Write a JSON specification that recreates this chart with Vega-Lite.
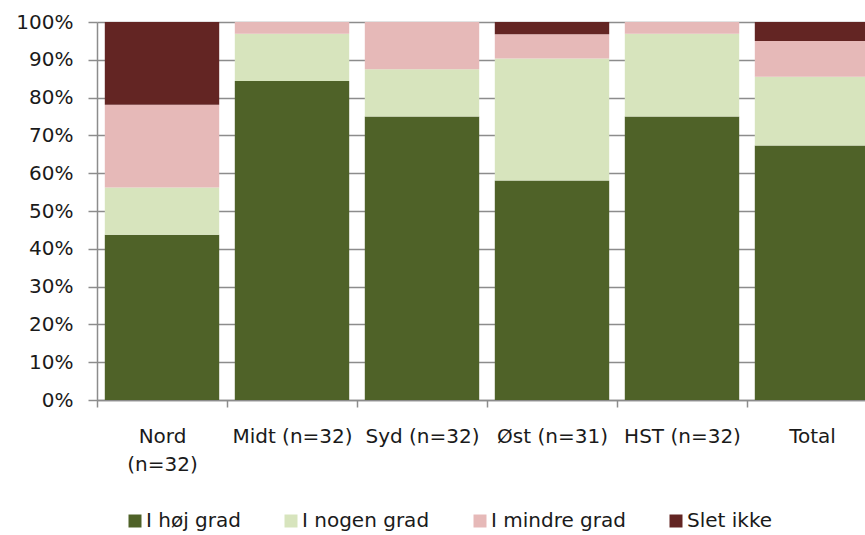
{
  "$schema": "https://vega.github.io/schema/vega-lite/v6.json",
  "autosize": {"type": "none"},
  "padding": {"left": 97, "top": 22, "right": 0, "bottom": 135},
  "width": 780,
  "height": 378,
  "background": "white",
  "config": {
    "view": {"stroke": null},
    "font": "DejaVu Sans"
  },
  "data": {
    "values": [
      {"region": "Nord (n=32)", "svar": "I høj grad", "o": 1, "n": 14},
      {"region": "Nord (n=32)", "svar": "I nogen grad", "o": 2, "n": 4},
      {"region": "Nord (n=32)", "svar": "I mindre grad", "o": 3, "n": 7},
      {"region": "Nord (n=32)", "svar": "Slet ikke", "o": 4, "n": 7},
      {"region": "Midt (n=32)", "svar": "I høj grad", "o": 1, "n": 27},
      {"region": "Midt (n=32)", "svar": "I nogen grad", "o": 2, "n": 4},
      {"region": "Midt (n=32)", "svar": "I mindre grad", "o": 3, "n": 1},
      {"region": "Midt (n=32)", "svar": "Slet ikke", "o": 4, "n": 0},
      {"region": "Syd (n=32)", "svar": "I høj grad", "o": 1, "n": 24},
      {"region": "Syd (n=32)", "svar": "I nogen grad", "o": 2, "n": 4},
      {"region": "Syd (n=32)", "svar": "I mindre grad", "o": 3, "n": 4},
      {"region": "Syd (n=32)", "svar": "Slet ikke", "o": 4, "n": 0},
      {"region": "Øst (n=31)", "svar": "I høj grad", "o": 1, "n": 18},
      {"region": "Øst (n=31)", "svar": "I nogen grad", "o": 2, "n": 10},
      {"region": "Øst (n=31)", "svar": "I mindre grad", "o": 3, "n": 2},
      {"region": "Øst (n=31)", "svar": "Slet ikke", "o": 4, "n": 1},
      {"region": "HST (n=32)", "svar": "I høj grad", "o": 1, "n": 24},
      {"region": "HST (n=32)", "svar": "I nogen grad", "o": 2, "n": 7},
      {"region": "HST (n=32)", "svar": "I mindre grad", "o": 3, "n": 1},
      {"region": "HST (n=32)", "svar": "Slet ikke", "o": 4, "n": 0},
      {"region": "Total", "svar": "I høj grad", "o": 1, "n": 107},
      {"region": "Total", "svar": "I nogen grad", "o": 2, "n": 29},
      {"region": "Total", "svar": "I mindre grad", "o": 3, "n": 15},
      {"region": "Total", "svar": "Slet ikke", "o": 4, "n": 8}
    ]
  },
  "mark": {"type": "bar", "stroke": null, "width": {"band": 0.88}},
  "encoding": {
    "x": {
      "field": "region",
      "type": "nominal",
      "sort": null,
      "scale": {"paddingInner": 0, "paddingOuter": 0},
      "axis": {
        "title": null,
        "labelAngle": 0,
        "labelFontSize": 20,
        "labelColor": "#1a1a1a",
        "labelBaseline": "top",
        "labelPadding": 19,
        "labelLineHeight": 28,
        "labelExpr": "datum.value == 'Nord (n=32)' ? ['Nord', '(n=32)'] : datum.value",
        "domainColor": "#8c8c8c",
        "domainWidth": 1.5,
        "tickColor": "#8c8c8c",
        "tickWidth": 1.5,
        "tickSize": 7,
        "tickBand": "extent",
        "grid": false
      }
    },
    "y": {
      "aggregate": "sum",
      "field": "n",
      "type": "quantitative",
      "stack": "normalize",
      "scale": {"domain": [0, 1], "nice": false},
      "axis": {
        "title": null,
        "format": ".0%",
        "values": [0, 0.1, 0.2, 0.3, 0.4, 0.5, 0.6, 0.7, 0.8, 0.9, 1],
        "labelFontSize": 20,
        "labelColor": "#1a1a1a",
        "labelPadding": 15,
        "domainColor": "#8c8c8c",
        "domainWidth": 1.5,
        "tickColor": "#8c8c8c",
        "tickWidth": 1.5,
        "tickSize": 9,
        "grid": true,
        "gridColor": "#8c8c8c",
        "gridWidth": 1.5
      }
    },
    "color": {
      "field": "svar",
      "type": "nominal",
      "scale": {
        "domain": ["I høj grad", "I nogen grad", "I mindre grad", "Slet ikke"],
        "range": ["#4F6228", "#D7E4BD", "#E6B9B8", "#632523"]
      },
      "legend": {
        "title": null,
        "orient": "none",
        "direction": "horizontal",
        "legendX": 28,
        "legendY": 489,
        "symbolType": "square",
        "symbolSize": 169,
        "symbolStrokeWidth": 0,
        "symbolOpacity": 1,
        "labelFontSize": 20,
        "labelColor": "#1a1a1a",
        "labelOffset": 1,
        "columnPadding": 40
      }
    },
    "order": {"field": "o", "type": "quantitative"}
  }
}
